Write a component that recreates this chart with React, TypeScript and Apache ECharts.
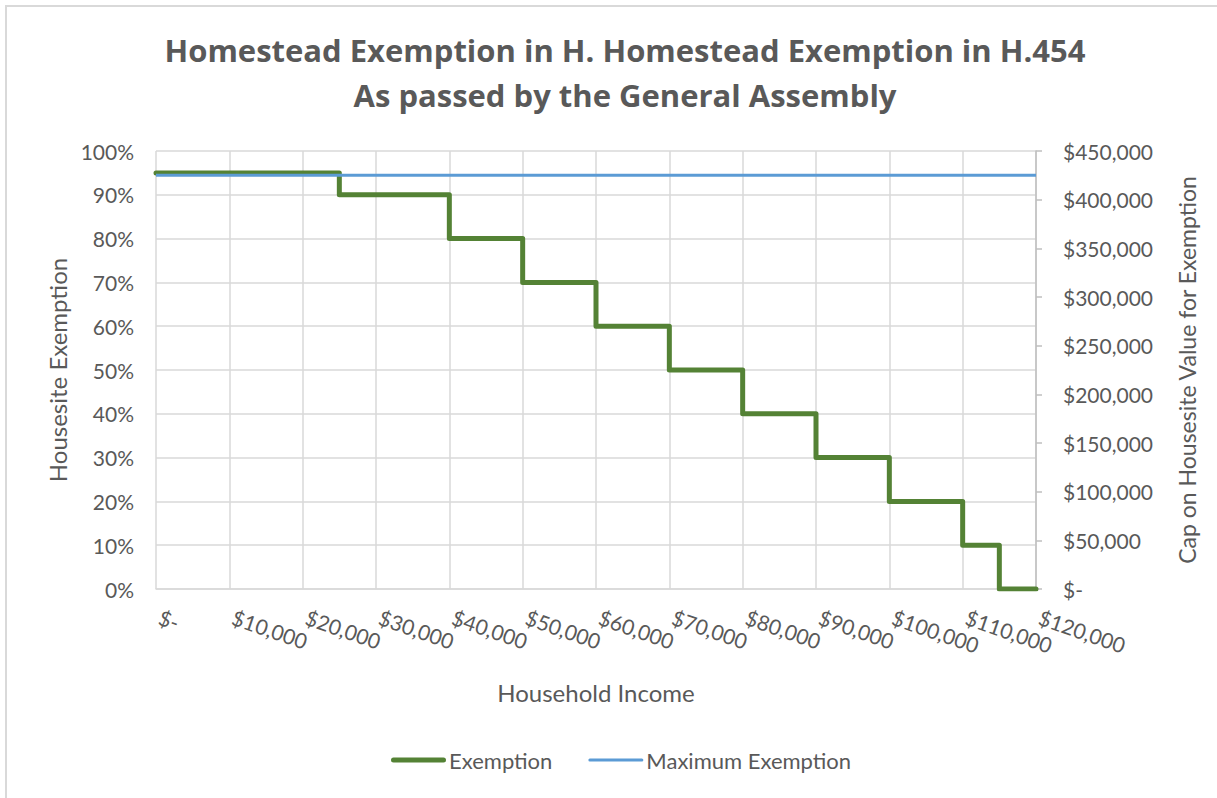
import React, { useEffect, useRef } from "react";
import * as echarts from "echarts";

const titleLines = ["Homestead Exemption in H. Homestead Exemption in H.454", "As passed by the General Assembly"];
const incomeBreaks = [0, 25000, 40000, 50000, 60000, 70000, 80000, 90000, 100000, 110000, 115000, 120000];
const exemptionRates = [0.95, 0.9, 0.8, 0.7, 0.6, 0.5, 0.4, 0.3, 0.2, 0.1, 0, 0];
const maxIncome = [0, 120000];
const maxExemption = [425000, 425000];
const seriesNames = ["Exemption", "Maximum Exemption"];

const FONT = "Lato";
const GRAY = "#595959";

function money(v: number): string {
  if (v === 0) return "$-";
  return "$" + v.toLocaleString("en-US");
}

export default function App() {
  const ref = useRef<HTMLDivElement>(null);
  useEffect(() => {
    if (!ref.current) return;
    const chart = echarts.init(ref.current, null, { renderer: "svg" });
    chart.setOption({
      animation: false,
      backgroundColor: "#ffffff",
      textStyle: { fontFamily: FONT, color: GRAY },
      title: {
        text: titleLines.join("\n"),
        left: 620,
        top: 22,
        textAlign: "center",
        textStyle: { fontFamily: "Open Sans", fontWeight: "bold", fontSize: 31, lineHeight: 45, color: GRAY },
      },
      graphic: [
        {
          type: "rect",
          shape: { x: 6, y: 6, width: 1400, height: 1000 },
          style: { fill: "none", stroke: "#d9d9d9", lineWidth: 2 },
          silent: true,
        },
      ],
      legend: {
        bottom: 22,
        left: 386,
        itemWidth: 55,
        itemHeight: 10,
        itemGap: 36,
        textStyle: { fontFamily: FONT, fontSize: 22, color: GRAY, padding: [0, 0, 0, -2] },
        data: [
          { name: seriesNames[0], icon: "path://M0,0L0,0ZM0,10L0,10ZM2.5,2.5H52.5A2.5,2.5,0,0,1,52.5,7.5H2.5A2.5,2.5,0,0,1,2.5,2.5Z" },
          { name: seriesNames[1], icon: "path://M0,0L0,0ZM0,10L0,10ZM1.5,3.5H53.5A1.5,1.5,0,0,1,53.5,6.5H1.5A1.5,1.5,0,0,1,1.5,3.5Z" },
        ],
      },
      grid: { left: 156, right: 181, top: 151, bottom: 209 },
      xAxis: {
        type: "value",
        min: 0,
        max: 120000,
        interval: 10000,
        name: "Household Income",
        nameLocation: "middle",
        nameGap: 91,
        nameTextStyle: { fontFamily: FONT, fontSize: 24, color: GRAY },
        axisLine: { show: true, lineStyle: { color: "#d9d9d9", width: 1.5 } },
        axisTick: { show: false },
        splitLine: { show: true, lineStyle: { color: "#d9d9d9", width: 1.5 } },
        axisLabel: {
          rotate: -19,
          margin: 26,
          padding: [0, 0, 0, 4],
          fontFamily: FONT,
          fontSize: 21,
          color: GRAY,
          formatter: (v: number) => money(v),
        },
      },
      yAxis: [
        {
          type: "value",
          min: 0,
          max: 1,
          interval: 0.1,
          name: "Housesite Exemption",
          nameLocation: "middle",
          nameGap: 84,
          nameTextStyle: { fontFamily: FONT, fontSize: 24, color: GRAY },
          axisLine: { show: false },
          axisTick: { show: false },
          splitLine: { show: true, lineStyle: { color: "#d9d9d9", width: 1.5 } },
          axisLabel: {
            margin: 22,
            fontFamily: FONT,
            fontSize: 21,
            color: GRAY,
            formatter: (v: number) => Math.round(v * 100) + "%",
          },
        },
        {
          type: "value",
          min: 0,
          max: 450000,
          interval: 50000,
          position: "right",
          name: "Cap on Housesite Value for Exemption",
          nameLocation: "middle",
          nameGap: 139,
          nameRotate: 90,
          nameTextStyle: { fontFamily: FONT, fontSize: 23, color: GRAY },
          axisLine: { show: true, lineStyle: { color: "#bfbfbf", width: 1.5 } },
          axisTick: { show: true, inside: false, length: 6, lineStyle: { color: "#bfbfbf", width: 1.5 } },
          splitLine: { show: false },
          axisLabel: {
            margin: 27,
            fontFamily: FONT,
            fontSize: 21,
            color: GRAY,
            formatter: (v: number) => money(v),
          },
        },
      ],
      series: [
        {
          name: seriesNames[0],
          type: "line",
          step: "end",
          yAxisIndex: 0,
          symbol: "none",
          data: incomeBreaks.map((x, i) => [x, exemptionRates[i]]),
          lineStyle: { color: "#548235", width: 5, join: "round", cap: "round" },
          itemStyle: { color: "#548235" },
        },
        {
          name: seriesNames[1],
          type: "line",
          yAxisIndex: 1,
          symbol: "none",
          data: maxIncome.map((x, i) => [x, maxExemption[i]]),
          lineStyle: { color: "#5b9bd5", width: 3 },
          itemStyle: { color: "#5b9bd5" },
        },
      ],
    });
    return () => chart.dispose();
  }, []);
  return (
    <div
      ref={ref}
      style={{ position: "fixed", left: 0, top: 0, width: 1217, height: 798 }}
    />
  );
}
